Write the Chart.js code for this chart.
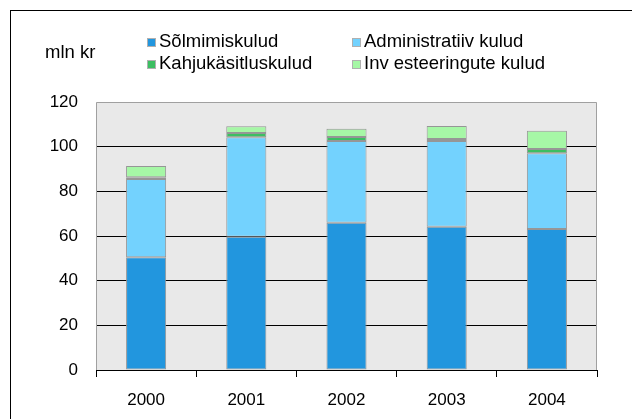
<!DOCTYPE html>
<html>
<head>
<meta charset="utf-8">
<script src="https://cdn.jsdelivr.net/npm/chart.js@4"></script>
<style>
  html, body { margin: 0; padding: 0; background: #fff; }
  #wrap { width: 632px; height: 419px; position: relative; }
</style>
</head>
<body>
<div id="wrap"><canvas id="costs-chart" width="632" height="419"></canvas></div>
<script>
// kulud aastate kaupa, mln kr
const years = ["2000", "2001", "2002", "2003", "2004"];
const solmimis = [50.5, 59.7, 65.9, 64.1, 63.1];
const admin = [35.0, 44.5, 36.6, 38.4, 33.9];
const kahju = [0.8, 1.9, 1.8, 0.9, 2.0];
const invest = [5.0, 3.0, 3.7, 5.8, 8.1];
const yTicks = [0, 20, 40, 60, 80, 100, 120];

const FONT = "'Liberation Sans', Arial, sans-serif";

function ds(label, data, color) {
  return {
    label: label,
    data: data,
    backgroundColor: color,
    borderColor: "#969696",
    borderWidth: 1,
    borderSkipped: false,
    categoryPercentage: 0.8,
    barPercentage: 0.5,
  };
}

const chartData = {
  labels: years,
  datasets: [
    ds("Sõlmimiskulud", solmimis, "#2296de"),
    ds("Administratiiv kulud", admin, "#73d2fe"),
    ds("Kahjukäsitluskulud", kahju, "#3cbe62"),
    ds("Inv esteeringute kulud", invest, "#a6f7a6"),
  ],
};

// plot area background + frame, legend and unit label
const framePlugin = {
  id: "frame",
  beforeDraw(chart) {
    const { ctx, chartArea: a } = chart;
    ctx.save();
    ctx.fillStyle = "#fff";
    ctx.fillRect(0, 0, chart.width, chart.height);
    ctx.strokeStyle = "#000";
    ctx.lineWidth = 1;
    ctx.strokeRect(10.5, 10.5, 700, 500);
    ctx.fillStyle = "#e9e9e9";
    ctx.fillRect(a.left, a.top, a.right - a.left, a.bottom - a.top);
    ctx.restore();
  },
  beforeDatasetsDraw(chart) {
    const { ctx, chartArea: a } = chart;
    ctx.save();
    ctx.strokeStyle = "#a0a0a0";
    ctx.lineWidth = 1;
    ctx.beginPath();
    ctx.moveTo(a.left + 0.5, a.bottom);
    ctx.lineTo(a.left + 0.5, a.top + 0.5);
    ctx.lineTo(a.right - 0.5, a.top + 0.5);
    ctx.lineTo(a.right - 0.5, a.bottom);
    ctx.stroke();
    ctx.restore();
  },
  afterDraw(chart) {
    const ctx = chart.ctx;
    ctx.save();
    ctx.font = "18.5px " + FONT;
    ctx.fillStyle = "#000";
    ctx.textBaseline = "middle";
    ctx.fillText("mln kr", 45, 53);
    const pos = [[147, 42], [352, 42], [147, 64], [352, 64]];
    chart.data.datasets.forEach((d, i) => {
      const [x, y] = pos[i];
      ctx.fillStyle = d.backgroundColor;
      ctx.fillRect(x, y - 4, 9, 9);
      ctx.strokeStyle = "#b0b0b0";
      ctx.strokeRect(x + 0.5, y - 3.5, 8, 8);
      ctx.fillStyle = "#000";
      ctx.fillText(d.label, x + 12, y);
    });
    ctx.restore();
  },
};

const chart1 = new Chart(document.querySelector("#costs-chart"), {
  type: "bar",
  data: chartData,
  plugins: [framePlugin],
  options: {
    responsive: false,
    animation: false,
    layout: { padding: { left: 11, top: 102, right: 35, bottom: 0 } },
    plugins: { legend: { display: false }, tooltip: { enabled: false } },
    scales: {
      x: {
        stacked: true,
        grid: {
          offset: true,
          drawOnChartArea: false,
          drawTicks: true,
          tickLength: 7,
          color: "#000",
        },
        border: { display: true, color: "#000", width: 1 },
        ticks: { color: "#000", font: { family: FONT, size: 17 }, padding: 13 },
        afterFit(scale) { scale.height = 49; },
      },
      y: {
        stacked: true,
        min: 0,
        max: 120,
        afterBuildTicks(scale) { scale.ticks = yTicks.map(v => ({ value: v })); },
        grid: {
          drawTicks: false,
          color: c => (c.tick.value === 120 ? "rgba(0,0,0,0)" : "#000"),
        },
        border: { display: false },
        ticks: { color: "#000", font: { family: FONT, size: 17 }, padding: 18 },
        afterFit(scale) { scale.width = 85; },
      },
    },
  },
});
</script>
</body>
</html>
